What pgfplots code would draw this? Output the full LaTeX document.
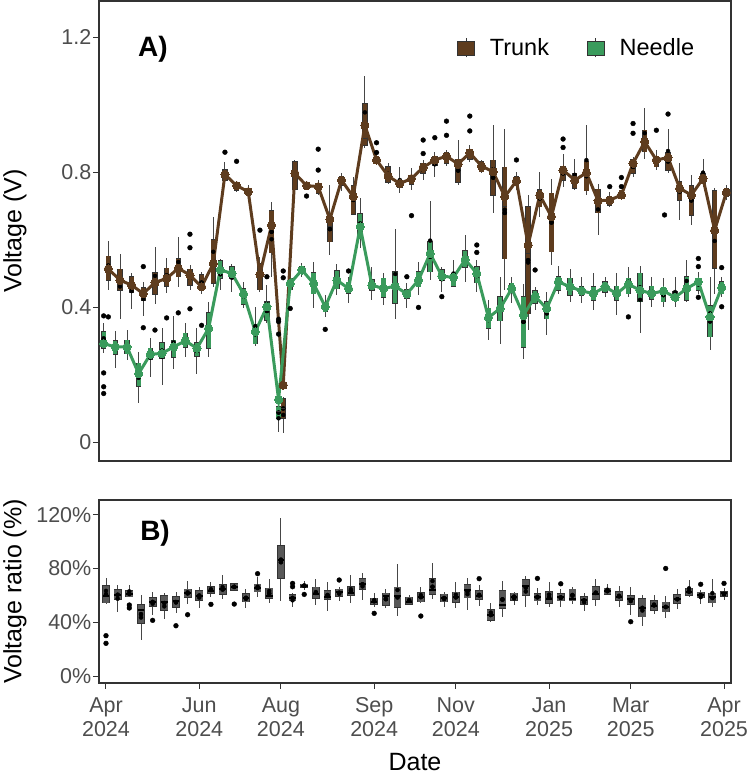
\documentclass[border=0pt]{standalone}
\usepackage{fontspec}
\setmainfont{Liberation Sans}
\usepackage{pgfplots}
\usepackage{pgfplotstable}
\pgfplotsset{compat=1.18}

\definecolor{trunkc}{RGB}{94,60,30}
\definecolor{needlec}{RGB}{58,155,92}
\definecolor{ratioc}{RGB}{88,88,88}
\definecolor{tickc}{RGB}{77,77,77}
\definecolor{framec}{RGB}{51,51,51}
\definecolor{whisc}{RGB}{70,70,70}

% Trunk voltage per sampling date (index i): whiskers, quartiles, median, mean
\pgfplotstableread{
i lw q1 med q3 uw mean
0 0.450 0.480 0.512 0.551 0.597 0.513
1 0.366 0.450 0.482 0.512 0.556 0.480
2 0.393 0.445 0.465 0.490 0.502 0.465
3 0.373 0.421 0.440 0.458 0.475 0.440
4 0.408 0.439 0.473 0.502 0.577 0.473
5 0.443 0.462 0.485 0.515 0.546 0.485
6 0.460 0.490 0.515 0.544 0.607 0.515
7 0.450 0.465 0.495 0.512 0.525 0.495
8 0.440 0.450 0.460 0.495 0.505 0.460
9 0.460 0.470 0.529 0.599 0.668 0.529
10 0.766 0.776 0.795 0.806 0.831 0.793
11 0.741 0.747 0.760 0.766 0.771 0.760
12 0.727 0.732 0.742 0.749 0.761 0.742
13 0.445 0.452 0.497 0.529 0.548 0.497
14 0.490 0.561 0.643 0.685 0.712 0.643
15 0.026 0.070 0.100 0.129 0.135 0.169
16 0.746 0.749 0.800 0.831 0.835 0.796
17 0.750 0.752 0.760 0.768 0.775 0.760
18 0.731 0.737 0.755 0.766 0.776 0.757
19 0.554 0.594 0.640 0.668 0.761 0.660
20 0.745 0.761 0.775 0.786 0.796 0.776
21 0.674 0.676 0.730 0.759 0.786 0.727
22 0.870 0.880 0.900 1.003 1.084 0.939
23 0.820 0.826 0.836 0.846 0.855 0.836
24 0.764 0.771 0.785 0.816 0.826 0.788
25 0.737 0.756 0.766 0.776 0.816 0.766
26 0.746 0.764 0.781 0.791 0.813 0.781
27 0.778 0.796 0.814 0.826 0.835 0.814
28 0.786 0.821 0.836 0.846 0.860 0.836
29 0.818 0.826 0.847 0.857 0.865 0.847
30 0.761 0.771 0.824 0.838 0.895 0.824
31 0.831 0.838 0.857 0.867 0.880 0.857
32 0.796 0.801 0.818 0.830 0.835 0.818
33 0.678 0.732 0.801 0.835 0.939 0.801
34 0.450 0.544 0.700 0.814 0.927 0.727
35 0.748 0.760 0.774 0.786 0.800 0.774
36 0.332 0.381 0.560 0.697 0.732 0.584
37 0.668 0.697 0.732 0.747 0.801 0.732
38 0.524 0.564 0.660 0.737 0.781 0.668
39 0.757 0.776 0.806 0.816 0.855 0.806
40 0.746 0.752 0.776 0.796 0.838 0.776
41 0.732 0.745 0.798 0.831 0.939 0.798
42 0.613 0.680 0.715 0.749 0.766 0.715
43 0.697 0.702 0.717 0.727 0.742 0.717
44 0.717 0.722 0.732 0.746 0.746 0.732
45 0.786 0.796 0.826 0.836 0.845 0.826
46 0.840 0.860 0.890 0.924 0.991 0.890
47 0.806 0.816 0.836 0.846 0.865 0.836
48 0.796 0.806 0.843 0.857 0.929 0.843
49 0.658 0.717 0.752 0.771 0.826 0.752
50 0.643 0.673 0.732 0.759 0.791 0.732
51 0.757 0.766 0.781 0.797 0.840 0.781
52 0.440 0.515 0.628 0.745 0.752 0.628
53 0.717 0.727 0.740 0.752 0.761 0.740
}\trunk

% Needle voltage per sampling date
\pgfplotstableread{
i lw q1 med q3 uw mean
0 0.263 0.278 0.292 0.327 0.352 0.292
1 0.221 0.261 0.282 0.300 0.330 0.282
2 0.243 0.262 0.282 0.302 0.332 0.282
3 0.115 0.166 0.203 0.233 0.266 0.203
4 0.194 0.245 0.260 0.278 0.307 0.260
5 0.169 0.248 0.263 0.294 0.337 0.263
6 0.218 0.251 0.282 0.302 0.373 0.282
7 0.252 0.282 0.300 0.322 0.352 0.300
8 0.203 0.255 0.278 0.294 0.337 0.278
9 0.253 0.278 0.337 0.383 0.416 0.337
10 0.450 0.485 0.510 0.537 0.544 0.510
11 0.445 0.485 0.500 0.520 0.529 0.500
12 0.396 0.409 0.439 0.455 0.475 0.439
13 0.286 0.292 0.327 0.347 0.400 0.327
14 0.352 0.361 0.401 0.416 0.466 0.401
15 0.031 0.070 0.090 0.105 0.110 0.126
16 0.441 0.451 0.470 0.485 0.495 0.470
17 0.490 0.500 0.510 0.520 0.530 0.510
18 0.396 0.440 0.470 0.502 0.534 0.470
19 0.371 0.386 0.401 0.412 0.436 0.401
20 0.436 0.455 0.480 0.508 0.529 0.480
21 0.411 0.442 0.455 0.473 0.490 0.455
22 0.574 0.603 0.638 0.676 0.722 0.638
23 0.421 0.450 0.465 0.480 0.520 0.465
24 0.406 0.429 0.455 0.485 0.500 0.455
25 0.366 0.411 0.462 0.505 0.630 0.462
26 0.396 0.426 0.439 0.451 0.470 0.439
27 0.436 0.460 0.480 0.504 0.534 0.480
28 0.480 0.505 0.559 0.594 0.714 0.559
29 0.445 0.480 0.492 0.510 0.520 0.492
30 0.460 0.462 0.488 0.500 0.539 0.488
31 0.475 0.519 0.541 0.567 0.613 0.541
32 0.445 0.472 0.500 0.520 0.539 0.500
33 0.302 0.337 0.369 0.396 0.421 0.369
34 0.292 0.360 0.396 0.431 0.490 0.396
35 0.411 0.443 0.455 0.470 0.490 0.455
36 0.245 0.282 0.376 0.431 0.468 0.376
37 0.391 0.411 0.431 0.448 0.460 0.431
38 0.317 0.366 0.396 0.416 0.445 0.396
39 0.440 0.450 0.475 0.490 0.521 0.475
40 0.416 0.436 0.460 0.485 0.514 0.460
41 0.411 0.436 0.448 0.460 0.490 0.448
42 0.391 0.421 0.440 0.460 0.500 0.440
43 0.430 0.445 0.460 0.475 0.490 0.460
44 0.376 0.421 0.440 0.462 0.500 0.440
45 0.431 0.440 0.468 0.485 0.519 0.468
46 0.322 0.416 0.450 0.500 0.521 0.450
47 0.401 0.423 0.440 0.462 0.490 0.440
48 0.401 0.416 0.448 0.455 0.485 0.448
49 0.401 0.419 0.429 0.445 0.488 0.429
50 0.416 0.421 0.455 0.490 0.539 0.455
51 0.440 0.450 0.475 0.485 0.505 0.475
52 0.273 0.312 0.371 0.403 0.490 0.371
53 0.430 0.440 0.458 0.475 0.490 0.458
}\needle

% Outlying trees (x already dodged)
\pgfplotstableread{
x y
0.2 0.371
3.2 0.520
3.2 0.339
4.2 0.332
5.2 0.368
6.2 0.383
7.2 0.616
7.2 0.576
7.2 0.395
8.2 0.346
10.2 0.859
11.2 0.832
13.2 0.628
15.2 0.507
15.2 0.487
17.2 0.729
18.2 0.868
18.2 0.806
23.2 0.887
23.2 0.858
26.2 0.671
27.2 0.895
27.2 0.855
28.2 0.902
29.2 0.951
29.2 0.909
31.2 0.966
31.2 0.922
35.2 0.836
39.2 0.898
39.2 0.873
43.2 0.757
44.2 0.784
44.2 0.757
45.2 0.944
45.2 0.915
47.2 0.924
48.2 0.972
47.9 0.673
}\trunkout

\pgfplotstableread{
x y
-0.2 0.374
-0.2 0.205
-0.2 0.164
-0.2 0.144
13.8 0.490
14.8 0.364
14.8 0.357
14.8 0.320
15.8 0.396
18.8 0.334
20.8 0.507
25.8 0.490
26.8 0.399
28.8 0.431
31.8 0.584
31.8 0.562
36.8 0.510
44.8 0.371
50.8 0.544
50.8 0.520
50.8 0.429
52.8 0.517
52.8 0.401
}\needleout

% Needle/trunk voltage ratio (%)
\pgfplotstableread{
i lw q1 med q3 uw
0 53.5 54.5 59.5 66.9 73.1
1 47.6 57.0 60.2 63.9 67.4
2 58.5 59.0 61.2 63.2 67.4
3 26.8 39.2 49.1 52.8 60.2
4 45.4 52.0 55.3 58.2 62.2
5 42.1 49.1 55.3 59.5 61.5
6 46.6 51.1 55.8 59.0 62.7
7 53.5 58.5 61.5 64.4 70.9
8 50.3 56.5 59.5 63.2 66.4
9 59.0 61.5 63.4 66.4 70.1
10 57.0 61.0 64.4 67.7 75.1
11 63.5 63.9 65.9 68.6 69.4
12 50.3 55.3 58.2 61.0 64.4
13 59.0 62.7 65.7 68.2 73.9
14 54.5 57.7 59.5 65.2 72.1
15 56.0 72.6 86.2 96.7 117.2
16 51.1 56.0 57.7 60.2 61.5
17 63.9 65.9 66.9 68.2 70.9
18 52.8 57.7 60.7 65.9 72.1
19 48.6 57.0 59.0 63.4 70.1
20 56.0 59.5 62.7 64.4 66.4
21 54.0 60.2 62.0 66.4 75.1
22 56.5 64.4 68.2 72.1 76.8
23 51.5 53.5 55.3 57.7 61.5
24 50.3 52.8 59.5 61.5 64.4
25 44.6 51.1 59.7 65.9 83.3
26 52.8 53.5 55.3 58.5 60.2
27 54.5 55.3 59.0 62.0 65.9
28 57.0 60.7 63.9 72.1 84.3
29 51.5 55.3 57.7 60.7 62.7
30 50.8 54.8 58.5 62.2 70.1
31 49.1 58.2 63.9 67.7 72.6
32 52.0 57.2 59.7 63.4 67.7
33 40.4 41.6 45.4 49.1 54.0
34 43.6 50.3 52.8 63.4 70.6
35 52.8 56.5 59.0 61.5 62.7
36 51.1 60.2 66.9 71.4 74.6
37 52.8 56.0 58.5 61.0 65.2
38 51.5 54.0 57.2 62.7 69.6
39 51.5 56.0 58.5 61.0 64.4
40 53.5 56.0 57.2 64.4 65.9
41 48.3 53.5 56.5 59.0 61.5
42 52.0 57.2 60.7 66.4 72.1
43 60.2 61.0 63.2 65.2 68.2
44 51.1 56.5 58.5 62.7 67.2
45 45.4 53.5 57.2 59.7 65.9
46 37.2 44.1 50.8 57.2 60.2
47 46.1 49.1 52.3 56.0 60.2
48 43.4 47.8 51.5 54.8 59.5
49 49.8 54.0 57.2 60.2 64.4
50 59.0 60.2 62.2 65.2 71.4
51 53.5 58.2 60.2 62.2 63.9
52 51.1 54.5 58.5 61.5 72.1
53 56.5 59.5 61.5 62.7 65.2
}\ratio

\pgfplotstableread{
x y
0 30.0
0 24.3
2 52.8
2 50.6
4 41.4
6 37.4
7 45.6
9 53.3
11 53.5
13 76.1
16 68.9
16 66.4
17 60.7
20 71.4
23 46.6
27 44.6
32 72.4
37 72.6
39 68.6
45 40.4
48 80.0
51 68.2
53 68.9
}\ratioout

% two-line date label
\newcommand{\dlab}[2]{\begin{tabular}{@{}c@{}}#1\\#2\end{tabular}}

\pgfplotsset{
  panel/.style={
    scale only axis, width=632pt,
    xmin=-0.6, xmax=53.6,
    axis line style={framec, line width=1.1pt},
    tick style={framec, line width=1pt},
    tick align=outside, major tick length=5.5pt, tick pos=left,
    tick label style={font=\fontsize{21.5}{24.4}\selectfont, color=tickc},
    yticklabel style={inner xsep=2pt},
    xticklabel style={inner ysep=6.5pt},
    /pgf/number format/assume math mode=true,
  },
  every axis y label/.style={at={(axis description cs:-0.133,0.5)},
    rotate=90, anchor=center, inner sep=0pt,
    font=\fontsize{25}{25}\selectfont},
  every axis x label/.style={at={(axis description cs:0.5,0)},
    anchor=center, yshift=-79pt, inner sep=0pt,
    font=\fontsize{25}{25}\selectfont},
  % vertical bars drawn as explicit error bars: #1 colour, #2 width
  vbar/.style n args={2}{only marks, mark=none,
    error bars/.cd, y dir=both, y explicit, error mark=none,
    error bar style={line width=#2, draw=#1, line cap=butt}},
  medmark/.style n args={3}{only marks, mark=-, mark size=#2,
    mark options={draw=#1, line width=#3}},
}

% whiskers, outlined boxes for table #1 shifted by #2
% (#3 fill, #4 box width, #5 outline pad in data units)
\newcommand{\boxes}[5]{%
  \addplot[vbar={whisc}{0.9pt}] table[x expr=\thisrow{i}+#2,
    y expr=(\thisrow{lw}+\thisrow{uw})/2,
    y error expr=(\thisrow{uw}-\thisrow{lw})/2] {#1};
  \addplot[vbar={framec}{#4+1.2pt}] table[x expr=\thisrow{i}+#2,
    y expr=(\thisrow{q1}+\thisrow{q3})/2,
    y error expr=(\thisrow{q3}-\thisrow{q1})/2+#5] {#1};
  \addplot[vbar={#3}{#4}] table[x expr=\thisrow{i}+#2,
    y expr=(\thisrow{q1}+\thisrow{q3})/2,
    y error expr=(\thisrow{q3}-\thisrow{q1})/2] {#1};
}

\begin{document}
\begin{tikzpicture}
\begin{axis}[panel, name=top, at={(0pt,0pt)}, anchor=north west,
    height=460pt, ymin=-0.056, ymax=1.307,
    ytick={0,0.4,0.8,1.2}, yticklabels={0,0.4,0.8,1.2},
    xtick=\empty,
    ylabel={Voltage (V)},
    legend columns=2,
    legend style={at={(axis description cs:0.5665,0.898)}, anchor=west,
      draw=none, fill=none, inner sep=0pt,
      font=\fontsize{23.5}{24}\selectfont,
      /tikz/every odd column/.append style={column sep=13pt},
      /tikz/every even column/.append style={column sep=36pt}},
  ]
  \addlegendimage{legend image code/.code={
      \draw[framec, line width=0.8pt] (8.5pt,-9.5pt) -- (8.5pt,9.5pt);
      \draw[framec, fill=trunkc, line width=0.6pt] (0pt,-7pt) rectangle (17pt,7pt);}}
  \addlegendentry{Trunk}
  \addlegendimage{legend image code/.code={
      \draw[framec, line width=0.8pt] (8.5pt,-9.5pt) -- (8.5pt,9.5pt);
      \draw[framec, fill=needlec, line width=0.6pt] (0pt,-7pt) rectangle (17pt,7pt);}}
  \addlegendentry{Needle}

  \boxes{\trunk}{0.2}{trunkc}{4.2pt}{0.0018}
  \addplot[medmark={framec}{2.1pt}{0.6pt}] table[x expr=\thisrow{i}+0.2, y=med] {\trunk};
  \boxes{\needle}{-0.2}{needlec}{4.2pt}{0.0018}
  \addplot[medmark={framec}{2.1pt}{0.6pt}] table[x expr=\thisrow{i}-0.2, y=med] {\needle};

  \addplot[only marks, mark=*, mark size=2.4pt, black] table[x=x, y=y] {\trunkout};
  \addplot[only marks, mark=*, mark size=2.4pt, black] table[x=x, y=y] {\needleout};

  \addplot[trunkc, line width=3pt, mark=*, mark size=4.1pt,
    mark options={fill=trunkc, draw=trunkc, line width=0pt}]
    table[x expr=\thisrow{i}+0.2, y=mean] {\trunk};
  \addplot[needlec, line width=3pt, mark=*, mark size=4.1pt,
    mark options={fill=needlec, draw=needlec, line width=0pt}]
    table[x expr=\thisrow{i}-0.2, y=mean] {\needle};

  \node[anchor=west, inner sep=0pt, font=\fontsize{28}{28}\selectfont\bfseries]
    at (axis description cs:0.0617,0.896) {A)};
\end{axis}

\begin{axis}[panel, at={(0pt,-499pt)}, anchor=north west,
    height=183pt, ymin=-5.2, ymax=130.9,
    ytick={0,40,80,120}, yticklabels={0\%,40\%,80\%,120\%},
    xtick={0,8,15,23,30,38,45,53},
    xticklabels={{\dlab{Apr}{2024}},{\dlab{Jun}{2024}},{\dlab{Aug}{2024}},
      {\dlab{Sep}{2024}},{\dlab{Nov}{2024}},{\dlab{Jan}{2025}},
      {\dlab{Mar}{2025}},{\dlab{Apr}{2025}}},
    xlabel={Date},
    ylabel={Voltage ratio (\%)},
  ]
  \boxes{\ratio}{0}{ratioc}{6.6pt}{0.45}
  \addplot[medmark={black}{3.3pt}{2pt}] table[x=i, y=med] {\ratio};
  \addplot[only marks, mark=*, mark size=2.4pt, black] table[x=x, y=y] {\ratioout};
  \node[anchor=west, inner sep=0pt, font=\fontsize{28}{28}\selectfont\bfseries]
    at (axis description cs:0.065,0.82) {B)};
\end{axis}
\pgfresetboundingbox
\path (-99pt,1pt) rectangle (651pt,-774pt);
\end{tikzpicture}
\end{document}
